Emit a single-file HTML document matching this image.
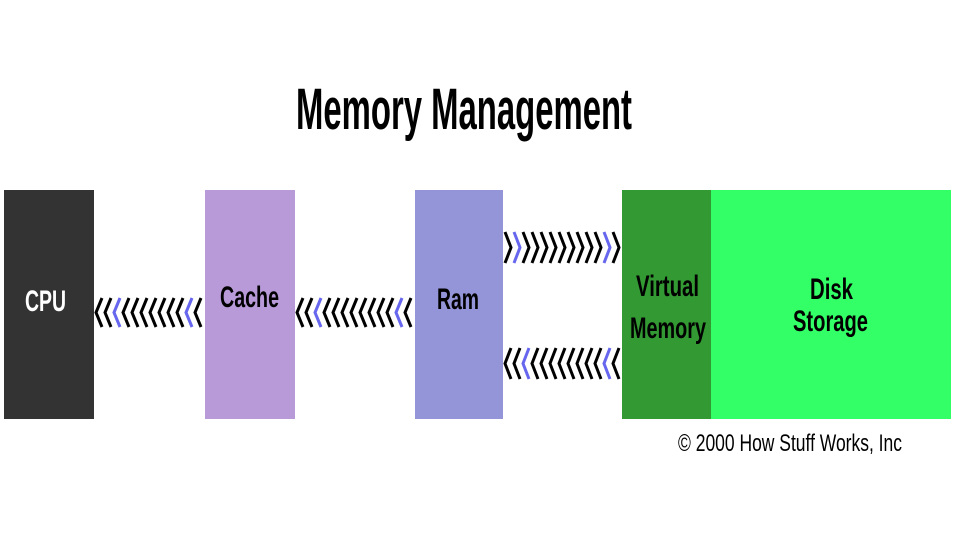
<!DOCTYPE html>
<html><head><meta charset="utf-8"><style>html,body{margin:0;padding:0;background:#fff}svg{display:block}</style></head>
<body>
<svg id="s" width="956" height="542" xmlns="http://www.w3.org/2000/svg" font-family="Liberation Sans, sans-serif">
<rect width="956" height="542" fill="#fff"/>
<text x="296" y="129" font-size="58" font-weight="bold" textLength="336" lengthAdjust="spacingAndGlyphs">Memory Management</text>
<rect x="4" y="190" width="90" height="229" fill="#333333"/>
<rect x="205" y="190" width="90" height="229" fill="#b99ad9"/>
<rect x="415" y="190" width="88" height="229" fill="#9494d9"/>
<rect x="622" y="190" width="89" height="229" fill="#339933"/>
<rect x="711" y="190" width="240" height="229" fill="#33ff66"/>
<g font-weight="bold" font-size="30">
<text x="25" y="311" fill="#fff" textLength="41" lengthAdjust="spacingAndGlyphs">CPU</text>
<text x="220" y="307" textLength="59" lengthAdjust="spacingAndGlyphs">Cache</text>
<text x="437" y="309" textLength="42" lengthAdjust="spacingAndGlyphs">Ram</text>
<text x="636" y="296" textLength="63" lengthAdjust="spacingAndGlyphs">Virtual</text>
<text x="630" y="338" textLength="76" lengthAdjust="spacingAndGlyphs">Memory</text>
<text x="810" y="299" textLength="43" lengthAdjust="spacingAndGlyphs">Disk</text>
<text x="793" y="331" textLength="75" lengthAdjust="spacingAndGlyphs">Storage</text>
</g>
<text x="678" y="451" font-size="24" textLength="224" lengthAdjust="spacingAndGlyphs">© 2000 How Stuff Works, Inc</text>
<g id="ch" fill="none" stroke-width="3"></g>
</svg>
<script>
var g=document.getElementById('ch'),ns='http://www.w3.org/2000/svg';
function row(x0,x1,y0,y1,dir){
  var n=Math.floor((x1-x0)/9),h=(y1-y0)/2,w=6;
  for(var i=0;i<n;i++){
    var x=x0+i*9+2;
    var p=document.createElementNS(ns,'polyline');
    var pts=dir>0?[x,y0,x+w,y0+h,x,y1]:[x+w,y0,x,y0+h,x+w,y1];
    p.setAttribute('points',pts.join(','));
    var blue=(dir<0?(i==2||i==n-2):(i==1||i==n-2));
    p.setAttribute('stroke',blue?'#6666ee':'#000');
    g.appendChild(p);
  }
}
row(94,205,298,327,-1);
row(295,414,298,327,-1);
row(503,622,232,263,1);
row(503,622,348,379,-1);
</script>
</body></html>
